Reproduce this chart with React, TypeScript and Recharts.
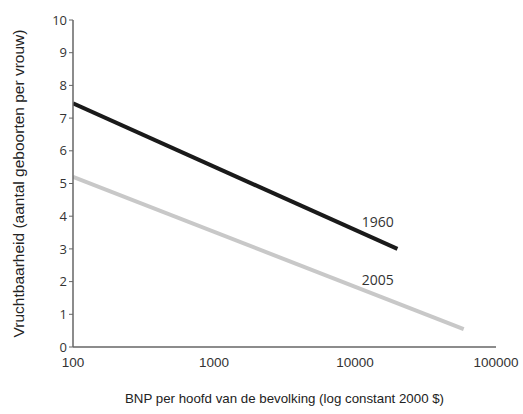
import React from 'react';
import { LineChart, Line, XAxis, YAxis, Label, ReferenceDot } from 'recharts';

const gdp1960 = [100, 20000];
const fert1960 = [7.45, 3.0];
const gdp2005 = [100, 59000];
const fert2005 = [5.2, 0.55];
const xTicks = [100, 1000, 10000, 100000];
const yTicks = [0, 1, 2, 3, 4, 5, 6, 7, 8, 9, 10];
const seriesLabels = [
  { name: '1960', x: 14500, y: 3.82 },
  { name: '2005', x: 14500, y: 2.05 },
];

const data1960 = gdp1960.map((g, i) => ({ gdp: g, v: fert1960[i] }));
const data2005 = gdp2005.map((g, i) => ({ gdp: g, v: fert2005[i] }));

const xTickStyle = { fontSize: 13.5, fill: '#333', stroke: 'none', fontFamily: 'Liberation Sans, Arial, sans-serif' };
const yTickStyle = { fontSize: 13, fill: '#333', stroke: 'none', fontFamily: 'Open Sans, DejaVu Sans, sans-serif' };

export default function App() {
  return (
    <div style={{ position: 'absolute', left: 0, top: 0, background: '#fff' }}>
      <LineChart width={523} height={414} margin={{ top: 20, right: 27, bottom: 7, left: 0 }}>
        <XAxis
          dataKey="gdp"
          type="number"
          scale="log"
          domain={[100, 100000]}
          ticks={xTicks}
          allowDataOverflow
          height={60}
          axisLine={{ stroke: '#666', strokeWidth: 1.5 }}
          tickLine={false}
          tickSize={0}
          tickMargin={10}
          tick={xTickStyle}
        >
          <Label
            value="BNP per hoofd van de bevolking (log constant 2000 $)"
            position="insideBottom"
            offset={4}
            style={{ fontSize: 13.3, fill: '#222', fontFamily: 'Liberation Sans, Arial, sans-serif' }}
          />
        </XAxis>
        <YAxis
          type="number"
          domain={[0, 10]}
          ticks={yTicks}
          width={73}
          axisLine={{ stroke: '#666', strokeWidth: 1.5 }}
          tickLine={{ stroke: '#666' }}
          tickSize={4}
          tickMargin={2}
          tick={yTickStyle}
        >
          <Label
            value="Vruchtbaarheid (aantal geboorten per vrouw)"
            angle={-90}
            position="center"
            dx={-18}
            style={{ fontSize: 15.5, fill: '#222', fontFamily: 'Liberation Sans, Arial, sans-serif', textAnchor: 'middle' }}
          />
        </YAxis>
        <Line
          data={data2005}
          dataKey="v"
          stroke="#c8c8c8"
          strokeWidth={4}
          dot={false}
          isAnimationActive={false}
        />
        <Line
          data={data1960}
          dataKey="v"
          stroke="#1a1a1a"
          strokeWidth={4}
          dot={false}
          isAnimationActive={false}
        />
        {seriesLabels.map((s) => (
          <ReferenceDot
            key={s.name}
            x={s.x}
            y={s.y}
            r={0}
            fill="none"
            stroke="none"
            label={{ value: s.name, position: 'center', style: { fontSize: 14, fill: '#333', fontFamily: 'Open Sans, DejaVu Sans, sans-serif' } }}
          />
        ))}
      </LineChart>
    </div>
  );
}
